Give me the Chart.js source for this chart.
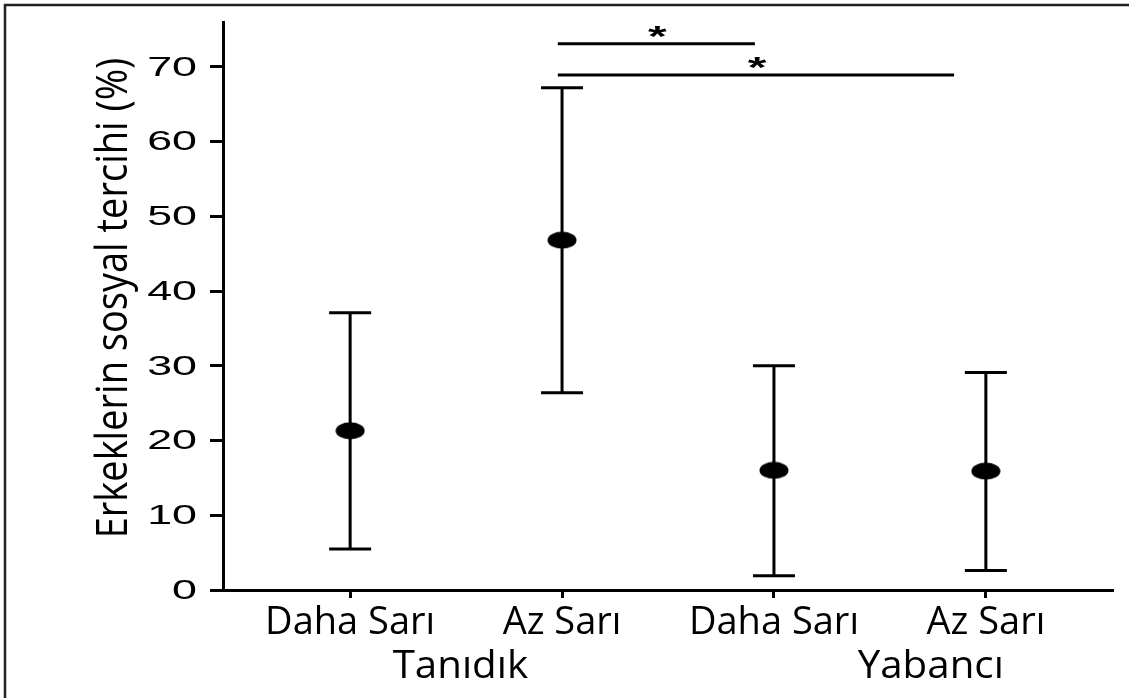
<!DOCTYPE html>
<html>
<head>
<meta charset="utf-8">
<script src="https://cdn.jsdelivr.net/npm/chart.js@4.4.1/dist/chart.umd.min.js"></script>
<style>
  html, body { margin: 0; padding: 0; background: #fff; }
  #wrap { position: relative; width: 1129px; height: 698px; }
</style>
</head>
<body>
<div id="wrap"><canvas id="c"></canvas></div>
<script>
// Conditions along the x axis and their grouping
const conditions = ['Daha Sarı', 'Az Sarı', 'Daha Sarı', 'Az Sarı'];
const groups = ['Tanıdık', 'Yabancı'];
const groupCenter = [1.52, 3.74];

// Mean preference (%) with interval limits
const means = [21.3, 46.8, 16.0, 15.9];
const upper = [37.1, 67.2, 30.0, 29.1];
const lower = [5.5, 26.4, 1.9, 2.6];

// Y axis
const yTicks = [0, 10, 20, 30, 40, 50, 60, 70];
const yTitle = 'Erkeklerin sosyal tercihi (%)';

// Significance brackets: start / end (condition index units), height (%)
const sigFrom = [1.98, 1.98];
const sigTo = [2.91, 3.85];
const sigY = [73.1, 68.9];
const sigStarX = [2.45, 2.92];
const sigLabel = ['*', '*'];

// Filled ellipse used as the point marker
function ellipseMarker(w, h) {
  const c = document.createElement('canvas');
  c.width = w; c.height = h;
  const g = c.getContext('2d');
  g.fillStyle = '#000';
  g.beginPath();
  g.ellipse(w / 2, h / 2, w / 2 - 0.5, h / 2 - 0.5, 0, 0, Math.PI * 2);
  g.fill();
  return c;
}
const marker = ellipseMarker(30, 18);

const decorations = {
  id: 'decorations',
  beforeDatasetsDraw(chart) {
    // interval bars with caps
    const { ctx, scales: { x, y } } = chart;
    ctx.save();
    ctx.strokeStyle = '#000';
    ctx.lineWidth = 3;
    means.forEach((m, i) => {
      const px = x.getPixelForValue(i + 1);
      const pt = y.getPixelForValue(upper[i]);
      const pb = y.getPixelForValue(lower[i]);
      ctx.beginPath();
      ctx.moveTo(px, pt); ctx.lineTo(px, pb);
      ctx.moveTo(px - 21, pt); ctx.lineTo(px + 21, pt);
      ctx.moveTo(px - 21, pb); ctx.lineTo(px + 21, pb);
      ctx.stroke();
    });
    ctx.restore();
  },
  afterDraw(chart) {
    const { ctx, scales: { x, y }, chartArea } = chart;
    ctx.save();
    ctx.fillStyle = '#000';
    ctx.strokeStyle = '#000';

    // outer frame (left and top edges)
    ctx.lineWidth = 2.5;
    ctx.strokeStyle = '#222';
    ctx.beginPath();
    ctx.moveTo(5, chart.height);
    ctx.lineTo(5, 5);
    ctx.lineTo(chart.width, 5);
    ctx.stroke();
    ctx.strokeStyle = '#000';

    // y tick labels (wide numerals)
    ctx.font = '28px "Liberation Sans", Arial, sans-serif';
    ctx.textAlign = 'right';
    ctx.textBaseline = 'middle';
    y.ticks.forEach(t => {
      const py = y.getPixelForValue(t.value);
      ctx.save();
      ctx.translate(chartArea.left - 26, py + 1);
      ctx.scale(1.6, 1);
      ctx.fillText(String(t.value), 0, 0);
      ctx.restore();
    });

    // y axis title
    ctx.save();
    ctx.font = '38px "Open Sans", sans-serif';
    ctx.textAlign = 'center';
    ctx.textBaseline = 'alphabetic';
    ctx.translate(127, 298);
    ctx.rotate(-Math.PI / 2);
    ctx.scale(1, 1.15);
    ctx.fillText(yTitle, 0, 0);
    ctx.restore();

    // group labels under the condition labels
    ctx.font = '38px "Open Sans", sans-serif';
    ctx.textAlign = 'center';
    ctx.textBaseline = 'alphabetic';
    groups.forEach((g, i) => {
      ctx.save();
      ctx.translate(x.getPixelForValue(groupCenter[i]), 678);
      ctx.scale(1.06, 1);
      ctx.fillText(g, 0, 0);
      ctx.restore();
    });

    // significance brackets
    ctx.lineWidth = 3;
    sigY.forEach((v, i) => {
      const py = y.getPixelForValue(v);
      ctx.beginPath();
      ctx.moveTo(x.getPixelForValue(sigFrom[i]), py);
      ctx.lineTo(x.getPixelForValue(sigTo[i]), py);
      ctx.stroke();
      ctx.save();
      ctx.font = 'bold 30px "Liberation Sans", Arial, sans-serif';
      ctx.textAlign = 'center';
      ctx.textBaseline = 'alphabetic';
      ctx.translate(x.getPixelForValue(sigStarX[i]), py + 2);
      ctx.scale(1.6, 1);
      ctx.fillText(sigLabel[i], 0, 0);
      ctx.restore();
    });
    ctx.restore();
  }
};

new Chart(document.getElementById('c'), {
  type: 'scatter',
  data: {
    datasets: [{
      data: means.map((v, i) => ({ x: i + 1, y: v })),
      pointStyle: marker,
      pointRadius: 15,
      showLine: false
    }]
  },
  options: {
    responsive: true,
    maintainAspectRatio: false,
    animation: false,
    events: [],
    layout: { padding: { left: 0, right: 16, top: 22, bottom: 0 } },
    plugins: { legend: { display: false }, tooltip: { enabled: false } },
    scales: {
      x: {
        type: 'linear',
        min: 0.4,
        max: 4.6,
        afterBuildTicks: s => { s.ticks = conditions.map((_, i) => ({ value: i + 1 })); },
        afterFit: s => { s.height = 108; },
        ticks: {
          callback: (v, i) => conditions[i],
          color: '#000',
          font: { family: '"Open Sans", sans-serif', size: 38 },
          padding: 2,
          maxRotation: 0,
          autoSkip: false
        },
        grid: { drawOnChartArea: false, drawTicks: true, tickLength: 8, tickWidth: 3, tickColor: '#000' },
        border: { display: true, width: 3, color: '#000' }
      },
      y: {
        min: 0,
        max: 76,
        afterBuildTicks: s => { s.ticks = yTicks.map(v => ({ value: v })); },
        afterFit: s => { s.width = 223; },
        ticks: { display: false },
        grid: { drawOnChartArea: false, drawTicks: true, tickLength: 13, tickWidth: 3, tickColor: '#000' },
        border: { display: true, width: 3, color: '#000' }
      }
    }
  },
  plugins: [decorations]
});
</script>
</body>
</html>
